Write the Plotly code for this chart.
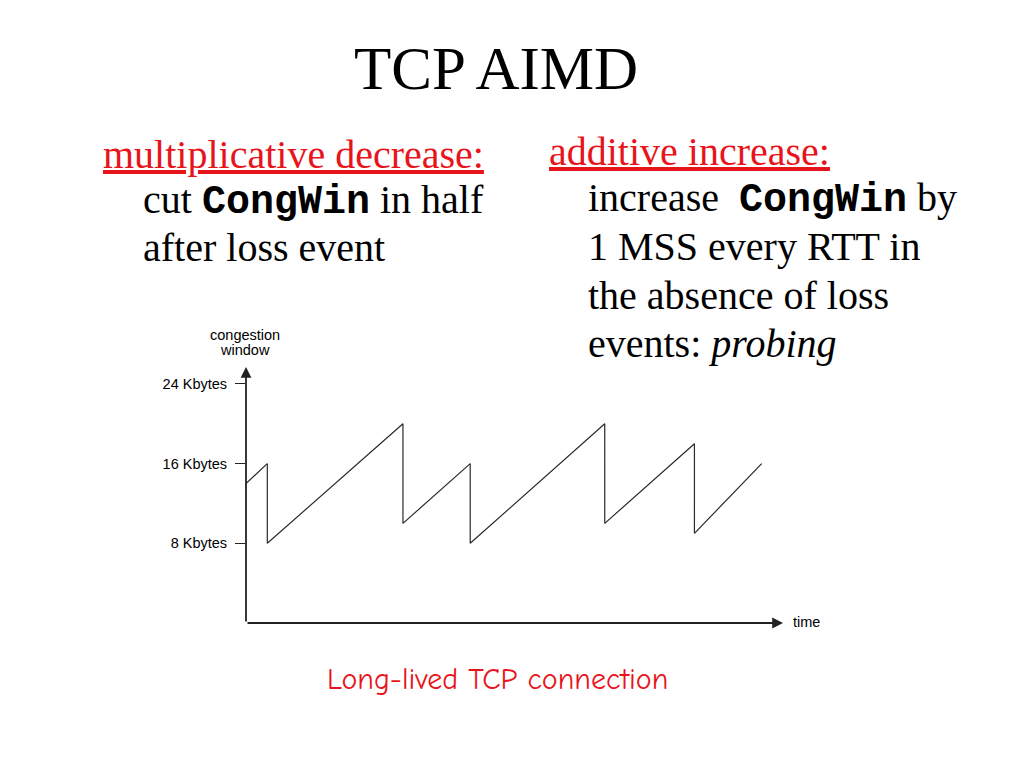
import plotly.graph_objects as go

# ---- data ----
time = [0, 1.9, 1.9, 14, 14, 20, 20, 32, 32, 40, 40, 46]
cwnd = [14, 16, 8, 20, 10, 16, 8, 20, 10, 18, 9, 16]
tick_vals = [8, 16, 24]
tick_text = ["8 Kbytes", "16 Kbytes", "24 Kbytes"]
X_MAX = 47.9
Y_MAX = 25.7

W, H = 1024, 768
OFF = 8  # page body margin
L, R, T, B = 246 - OFF, 241 + OFF, 367 - OFF, 145 + OFF
PW, PH = W - L - R, H - T - B


def px(x):
    return (x - OFF - L) / PW


def py(y):
    return (H - B - (y - OFF)) / PH


SERIF = "Liberation Serif, Times New Roman, serif"
SANS = "Liberation Sans, Arial, sans-serif"

fig = go.Figure()
fig.add_trace(go.Scatter(x=time, y=cwnd, mode="lines",
                         line=dict(color="#2a2a2a", width=1.2),
                         hoverinfo="skip", showlegend=False))

anns = []


def text(s, x, baseline, size, family, color="black", anchor="left"):
    anns.append(dict(text=s, x=px(x), y=py(baseline - 0.34 * size),
                     xref="paper", yref="paper", xanchor=anchor,
                     yanchor="middle", showarrow=False, borderpad=0,
                     font=dict(family=family, size=size, color=color)))


cw = "<b><span style='font-family:Liberation Mono, Courier New, monospace'>CongWin</span></b>"

text("TCP AIMD", 496, 89, 61, SERIF, anchor="center")
text("<u>multiplicative decrease:</u>", 102, 168, 40, SERIF, color="#e8141b")
text("cut " + cw + " in half", 142, 215, 40, SERIF)
text("after loss event", 142, 261, 40, SERIF)
text("<u>additive increase:</u>", 548, 165, 40, SERIF, color="#e8141b")
text("increase\u00a0 " + cw + " by", 587, 213, 40, SERIF)
text("1 MSS every RTT in", 587, 260, 40, SERIF)
text("the absence of loss", 587, 309, 40, SERIF)
text("events: <i>probing</i>", 587, 357, 40, SERIF)
text("congestion", 245, 340, 14.5, SANS, anchor="center")
text("window", 245, 355, 14.5, SANS, anchor="center")
text("time", 792, 627, 14.5, SANS)
text("Long-lived TCP connection", 497, 690, 30,
     "Comic Sans MS, Comic Neue, Open Sans, sans-serif", color="#e8141b",
     anchor="center")

# axis arrows
anns.append(dict(x=X_MAX, y=0, ax=0, ay=0, xref="x", yref="y", axref="x",
                 ayref="y", text="", showarrow=True, arrowhead=2,
                 arrowsize=1.2, arrowwidth=1.8, arrowcolor="#222"))
anns.append(dict(x=0, y=Y_MAX, ax=0, ay=0, xref="x", yref="y", axref="x",
                 ayref="y", text="", showarrow=True, arrowhead=2,
                 arrowsize=1.2, arrowwidth=1.8, arrowcolor="#222"))

fig.update_layout(
    width=W, height=H,
    margin=dict(l=L, r=R, t=T, b=B),
    paper_bgcolor="white", plot_bgcolor="white",
    annotations=anns,
    xaxis=dict(range=[0, X_MAX], showgrid=False, zeroline=False,
               showline=False, showticklabels=False, ticks=""),
    yaxis=dict(range=[0, Y_MAX], showgrid=False, zeroline=False,
               showline=False, tickvals=tick_vals, ticktext=tick_text,
               ticks="outside", ticklen=10, tickwidth=1, tickcolor="#222",
               ticklabelstandoff=5,
               tickfont=dict(family=SANS, size=14.5, color="black")),
)

fig.write_html("out.html")
